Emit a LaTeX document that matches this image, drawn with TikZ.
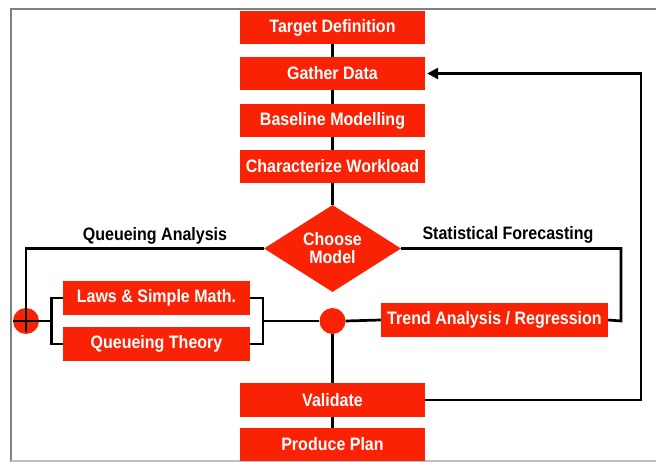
\documentclass[tikz,border=0pt]{standalone}
\usepackage{fontspec}
\setmainfont{Liberation Sans}
\newfontfamily\boxfont[FakeStretch=0.89]{Liberation Sans Bold}
\usetikzlibrary{shapes.geometric,arrows.meta}
\definecolor{boxred}{RGB}{250,34,4}
\definecolor{framegray}{RGB}{128,128,128}
\tikzset{
  redbox/.style={fill=boxred, draw=none, text=white, font=\boxfont\fontsize{18}{20}\selectfont, inner sep=0pt, anchor=center},
  redcirc/.style={circle, fill=boxred, draw=none, minimum size=26pt, inner sep=0pt},
  conn/.style={draw=black, line width=2.7pt},
  lbl/.style={text=black, font=\boxfont\fontsize{18}{20}\selectfont, inner sep=0pt},
}
\begin{document}
\begin{tikzpicture}[x=1pt,y=-1pt]
\useasboundingbox (0,0) rectangle (656,462);
% frame
\draw[framegray, line width=2pt] (11,462) -- (11,9) -- (656,9);
\draw[framegray!50, line width=1.5pt] (11,461) -- (656,461);

% top column boxes
\node[redbox, minimum width=185pt, minimum height=33pt] (tgt) at (332.5,27.5) {Target Definition};
\node[redbox, minimum width=185pt, minimum height=33pt] (gat) at (332.5,73.5) {Gather Data};
\node[redbox, minimum width=185pt, minimum height=33pt] (bas) at (332.5,120.5) {Baseline Modelling};
\node[redbox, minimum width=185pt, minimum height=33pt] (chr) at (332.5,166.5) {Characterize Workload};

% diamond
\node[redbox, diamond, aspect=1.575, minimum width=137pt, minimum height=87pt, align=center] (dia) at (332.5,248.5) {Choose\\[-2pt]Model};

% labels
\node[lbl] (qa) at (155,236) {Queueing Analysis};
\node[lbl] (sfc) at (508,235) {Statistical Forecasting};

% middle row
\node[redbox, minimum width=187pt, minimum height=34pt] (law) at (156.5,298) {Laws \& Simple Math.};
\node[redbox, minimum width=187pt, minimum height=34pt] (qth) at (156.5,344) {Queueing Theory};
\node[redbox, minimum width=227pt, minimum height=34pt] (trd) at (494.5,320) {Trend Analysis / Regression};
\node[redcirc] (mc) at (332.5,321) {};
\node[redcirc] (lc) at (26,321) {};

% bottom boxes
\node[redbox, minimum width=185pt, minimum height=34pt] (val) at (332.5,400) {Validate};
\node[redbox, minimum width=185pt, minimum height=33pt] (pp) at (332.5,444.5) {Produce Plan};

% helper coordinates
\coordinate (bl) at (51.5,321);
\coordinate (br) at (263,321);
\coordinate (lcb) at (26,332);
\coordinate (sfr) at (621,321);
\coordinate (fb) at (641,400);

% connectors
\draw[conn] (tgt.south) -- (gat.north);
\draw[conn] (gat.south) -- (bas.north);
\draw[conn] (bas.south) -- (chr.north);
\draw[conn] (chr.south) -- (dia.north);
\draw[conn] (dia.west) -| (lcb);
\draw[conn] (lc.west) -- (bl);
\draw[conn] (law.west) -| (bl) |- (qth.west);
\draw[conn] (law.east) -| (br) |- (qth.east);
\draw[conn] (br) -- (mc.west);
\draw[conn] (mc.east) -- (trd.west);
\draw[conn] (dia.east) -| (sfr) -- (trd.east);
\draw[conn] (mc.south) -- (val.north);
\draw[conn] (val.south) -- (pp.north);
\draw[conn, -{Triangle[length=11pt,width=11pt]}, shorten >=2pt] (val.east) -| (fb) |- (gat.east);
\end{tikzpicture}
\end{document}
